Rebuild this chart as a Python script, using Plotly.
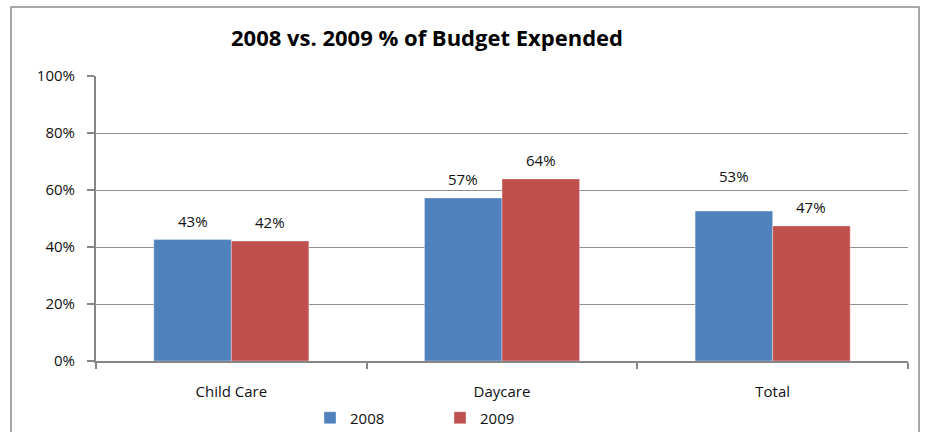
import plotly.graph_objects as go

categories = ["Child Care", "Daycare", "Total"]
series_names = ["2008", "2009"]
values_2008 = [0.426, 0.572, 0.526]
values_2009 = [0.421, 0.639, 0.474]
y_tick_vals = [0, 0.2, 0.4, 0.6, 0.8, 1.0]
y_tick_text = ["0%", "20%", "40%", "60%", "80%", "100%"]
title_text = "2008 vs. 2009 % of Budget Expended"

colors = ["#4F81BD", "#C0504D"]
FONT = "'Open Sans', 'Noto Sans', sans-serif"

W, H = 925, 432
L, R, T, B = 96, 17, 76, 71
pw, ph = W - L - R, H - T - B

fig = go.Figure()
for name, vals, col in zip(series_names, [values_2008, values_2009], colors):
    fig.add_trace(go.Bar(
        x=categories, y=vals, name=name,
        marker=dict(color=col, line=dict(width=0.6, color="rgba(255,255,255,0.6)")),
    ))

bargap = 0.427
half = (1 - bargap) / 4  # center offset of each bar within its group

# data labels
for i, (vals, off) in enumerate(zip([values_2008, values_2009], [-half, half])):
    for j, v in enumerate(vals):
        shift = 19
        if i == 0 and j == 2:
            shift = 35
        fig.add_annotation(
            x=j + off, y=v, xref="x", yref="y",
            text=f"{round(v*100):d}%", showarrow=False,
            yshift=shift, font=dict(family=FONT, size=15, color="#111"),
        )

def px_x(p):
    return (p - L) / pw

def px_y(p):
    return (H - B - p) / ph

# outer chart border
fig.add_shape(type="rect", xref="paper", yref="paper",
              x0=px_x(11), x1=px_x(919), y0=px_y(440), y1=px_y(7),
              line=dict(color="#8C8C8C", width=1.5), fillcolor="rgba(0,0,0,0)", layer="below")

fig.update_layout(
    width=W, height=H,
    margin=dict(l=L, r=R, t=T, b=B, autoexpand=False),
    paper_bgcolor="white", plot_bgcolor="white",
    barmode="group", bargap=bargap, bargroupgap=0,
    title=dict(text=f"<b>{title_text}</b>", x=427 / W, xanchor="center",
               y=1 - 38 / H, yanchor="middle",
               font=dict(family=FONT, size=22, color="#000")),
    font=dict(family=FONT, size=15, color="#111"),
    showlegend=True,
    legend=dict(orientation="h", x=px_x(310), y=px_y(418), xanchor="left", yanchor="middle",
                font=dict(family=FONT, size=15, color="#111"),
                itemwidth=30, entrywidth=85, bgcolor="rgba(0,0,0,0)"),
)
fig.update_xaxes(
    range=[-0.5, 2.5],
    showline=True, linecolor="#868686", linewidth=2,
    ticks="outside", tickson="boundaries", ticklen=6, tickcolor="#868686", tickwidth=1.5,
    tickfont=dict(family=FONT, size=15, color="#111"),
    showgrid=False, ticklabelstandoff=16,
)
fig.update_yaxes(
    range=[0, 1.0], tickvals=y_tick_vals, ticktext=y_tick_text,
    showline=True, linecolor="#868686", linewidth=2,
    ticks="outside", ticklen=7, tickcolor="#868686", tickwidth=1.5,
    showgrid=True, gridcolor="#8E8E8E", gridwidth=1,
    tickfont=dict(family=FONT, size=15, color="#111"),
    zeroline=False, ticklabelstandoff=9,
)

fig.write_html("out.html", config={"displayModeBar": False},
               post_script="document.body.style.margin='0px';")
